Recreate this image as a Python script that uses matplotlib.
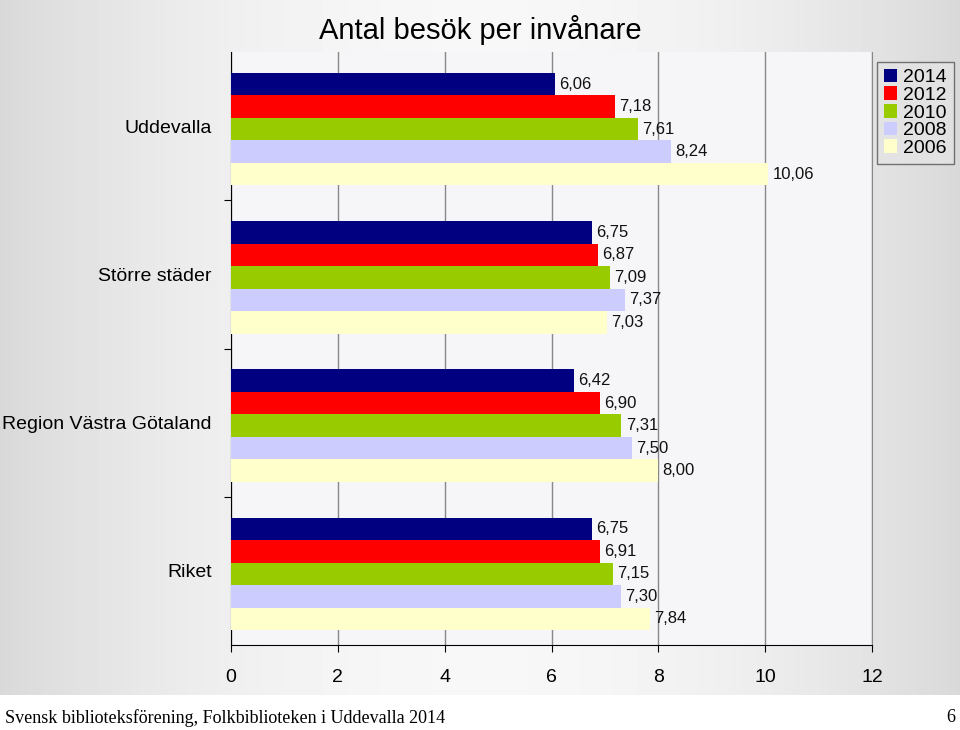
import numpy as np
import matplotlib.pyplot as plt

plt.rcParams['font.family'] = ['Liberation Sans', 'DejaVu Sans']

categories = ["Uddevalla", "Större städer", "Region Västra Götaland", "Riket"]
years = ["2014", "2012", "2010", "2008", "2006"]
colors = ["#000080", "#ff0000", "#99cc00", "#ccccff", "#ffffcc"]

# values per year, in category order
v2014 = [6.06, 6.75, 6.42, 6.75]
v2012 = [7.18, 6.87, 6.90, 6.91]
v2010 = [7.61, 7.09, 7.31, 7.15]
v2008 = [8.24, 7.37, 7.50, 7.30]
v2006 = [10.06, 7.03, 8.00, 7.84]
series = [v2014, v2012, v2010, v2008, v2006]

fig = plt.figure(figsize=(9.6, 7.3), dpi=100)
fig.patch.set_facecolor("white")

# gray gradient background panel
bg = fig.add_axes([0, 35 / 730, 1, 1 - 35 / 730])
xx = np.linspace(-1, 1, 300)
yy = np.linspace(-1, 1, 200)
X, Y = np.meshgrid(xx, yy)
grad = 0.97 - 0.12 * (X ** 2)
bg.imshow(grad, cmap="gray", vmin=0, vmax=1, aspect="auto", extent=[0, 1, 0, 1])
bg.axis("off")

ax = fig.add_axes([231 / 960, 85 / 730, (872 - 231) / 960, (645 - 52) / 730])
ax.set_facecolor("#f6f6f8")

bar_h = 0.152
n = len(categories)
for i, (vals, col, yr) in enumerate(zip(series, colors, years)):
    pos = [n - 1 - c + 0.1 + bar_h * (4 - i) + bar_h / 2 for c in range(n)]
    ax.barh(pos, vals, height=bar_h, color=col, label=yr, zorder=3)
    for p, v in zip(pos, vals):
        ax.text(v + 0.08, p, f"{v:.2f}".replace(".", ","), va="center", ha="left",
                fontsize=12, color="#111111", zorder=4)

ax.set_xlim(0, 12)
ax.set_ylim(0, n)
ax.set_xticks(range(0, 13, 2))
ax.tick_params(axis="x", labelsize=14, length=5, direction="out", pad=12)
ax.set_yticks(range(1, n))
ax.set_yticklabels([])
ax.tick_params(axis="y", length=5, direction="out")
ax.set_yticks([n - 1 - c + 0.5 for c in range(n)], minor=True)
ax.set_yticklabels(categories, minor=True, fontsize=14)
ax.tick_params(axis="y", which="minor", length=0, pad=14)
ax.grid(axis="x", color="#888888", linewidth=1, zorder=0)
ax.spines["top"].set_visible(False)
ax.spines["right"].set_color("#888888")
ax.spines["left"].set_color("black")
ax.spines["bottom"].set_color("black")

fig.text(480 / 960, 1 - 30 / 730, "Antal besök per invånare", ha="center",
         va="center", fontsize=21)

leg = fig.legend(loc="upper left", bbox_to_anchor=(877 / 960, 1 - 62 / 730),
                 fontsize=14, frameon=True, fancybox=False, handlelength=0.7,
                 handleheight=0.7, handletextpad=0.3, labelspacing=0.0,
                 borderpad=0.35, borderaxespad=0)
leg.get_frame().set_edgecolor("#555555")
leg.get_frame().set_facecolor("#e4e4e4")

fig.text(5 / 960, 1 - 718 / 730, "Svensk biblioteksförening, Folkbiblioteken i Uddevalla 2014",
         ha="left", va="center", fontsize=13, family="Liberation Serif")
fig.text(955 / 960, 1 - 718 / 730, "6", ha="right", va="center", fontsize=13,
         family="Liberation Serif")

fig.savefig("out.png", dpi=100)
